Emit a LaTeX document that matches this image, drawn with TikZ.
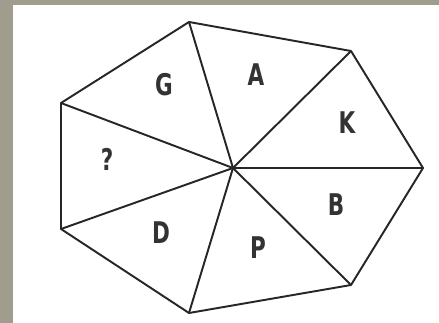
\documentclass[tikz,border=0pt]{standalone}
\usepackage{fontspec}
\setmainfont{DejaVu Sans Condensed}
\usetikzlibrary{calc, positioning}
\definecolor{frame}{RGB}{160,157,143}

\begin{document}
\begin{tikzpicture}[x=0.02cm, y=-0.02cm]
\tikzset{
  edge/.style={line width=1.1pt, line join=round, draw=black!85},
  lab/.style={font=\fontsize{17}{19}\selectfont\bfseries, text=black!80, xscale=0.8}
}

% background
\fill[frame] (0,0) rectangle (439,323);
\fill[white] (13,5) rectangle (439,323);
\useasboundingbox (0,0) rectangle (439,323);

\coordinate (O) at (233,168);
\coordinate (V1) at (189,22);
\coordinate (V2) at (351,51);
\coordinate (V3) at (423,168);
\coordinate (V4) at (351,285);
\coordinate (V5) at (189,313);
\coordinate (V6) at (61,229);
\coordinate (V7) at (61,103);

\draw[edge] (V1) -- (V2) -- (V3) -- (V4) -- (V5) -- (V6) -- (V7) -- cycle;
\foreach \v in {V1,V2,V3,V4,V5,V6,V7}
  \draw[edge] (O) -- (\v);

\node[lab] (la) at (256,75) {A};
\node[lab] (lg) at (164,85) {G};
\node[lab] (lk) at (347,123) {K};
\node[lab] (lq) at (107,159) {?};
\node[lab] (lb) at (336,205) {B};
\node[lab] (ld) at (161,233) {D};
\node[lab] (lp) at (258,248) {P};
\end{tikzpicture}
\end{document}
